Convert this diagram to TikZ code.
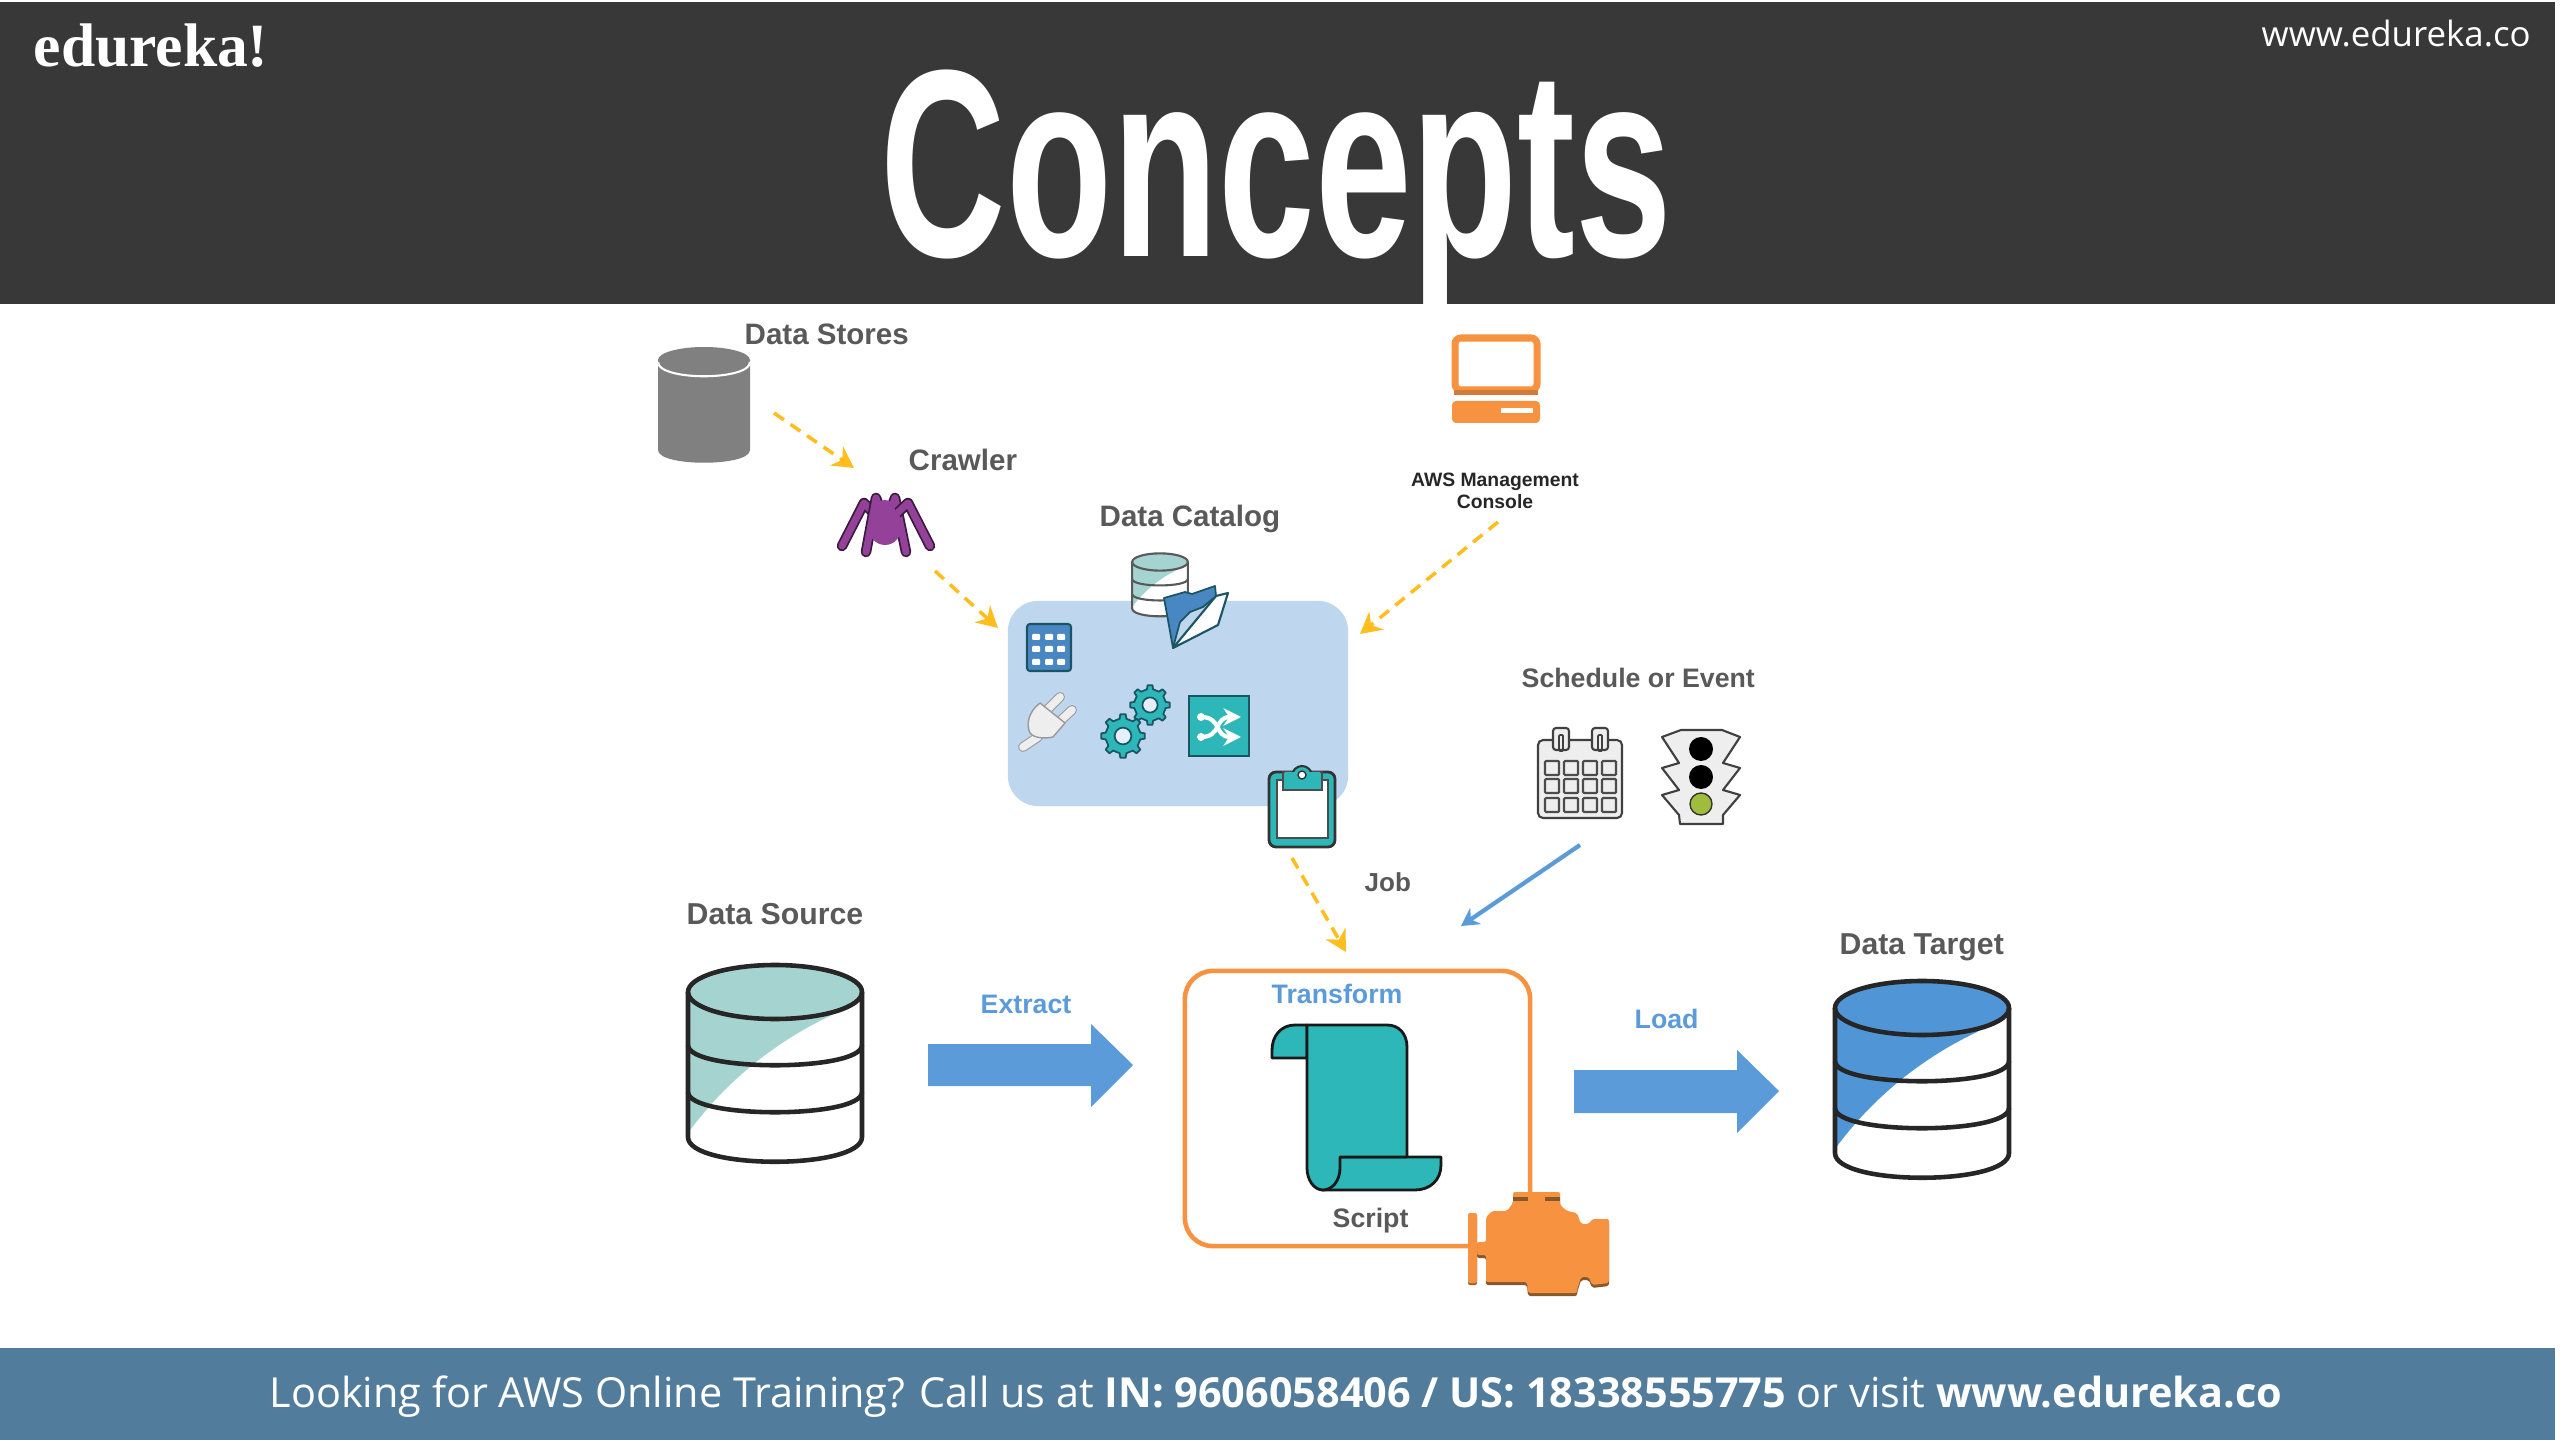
\documentclass[tikz,border=0pt]{standalone}
\usepackage{graphicx}
\usepackage{fontspec}
\setmainfont{Liberation Sans}
\newfontfamily\footfont{Open Sans}
\newfontfamily\logofont{Liberation Serif}
\usetikzlibrary{arrows.meta}

\definecolor{headgray}{HTML}{383838}
\definecolor{footblue}{HTML}{527C9C}
\definecolor{labelgray}{HTML}{595959}
\definecolor{flowblue}{HTML}{5B9BD9}
\definecolor{flowyellow}{HTML}{FFBE1E}
\definecolor{catalogblue}{HTML}{BFD6EF}
\definecolor{tealfill}{HTML}{2DB7B9}
\definecolor{tealline}{HTML}{1B5563}
\definecolor{tealpale}{HTML}{A5D3CF}
\definecolor{targetblue}{HTML}{5096D6}
\definecolor{awsorange}{HTML}{F69240}
\definecolor{spiderpurple}{HTML}{94419A}
\definecolor{icongray}{HTML}{EEEEEE}
\definecolor{storegray}{HTML}{808080}
\definecolor{lampgreen}{HTML}{A0BC3C}

\tikzset{
    lbl/.style={anchor=base west, inner sep=0pt, text=labelgray, font=\fontsize{8.4}{10}\selectfont\bfseries},
    flowlbl/.style={lbl, text=flowblue, font=\fontsize{7.6}{9}\selectfont\bfseries},
    dashflow/.style={flowyellow, line width=1pt, dash pattern=on 3.4pt off 2.3pt, -{Stealth[length=6pt,width=6.5pt]}},
    plainflow/.style={flowblue, line width=1.2pt, -{Stealth[length=5pt,width=5.5pt]}},
    blockflow/.style={fill=flowblue}
}

\newcommand{\dbicon}[6]{%
    \begin{scope}[shift={(#1,#2)},scale=#3]
        \fill[white] (-87,0) -- (-87,145) .. controls (-87,178) and (87,178) .. (87,145) -- (87,0) -- cycle;
        \fill[#4] (-87,0) -- (-87,141) .. controls (-50,90) and (0,50) .. (55,24) -- (87,0) -- cycle;
        \fill[#4] (0,0) ellipse (87 and 27);
        \draw[draw=#6, line width=#5] (0,0) ellipse (87 and 27);
        \draw[draw=#6, line width=#5] (-87,0) -- (-87,145) .. controls (-87,178) and (87,178) .. (87,145) -- (87,0);
        \draw[draw=#6, line width=#5] (-87,53) .. controls (-87,80) and (87,80) .. (87,53);
        \draw[draw=#6, line width=#5] (-87,100) .. controls (-87,127) and (87,127) .. (87,100);
    \end{scope}
}

\newcommand{\gearicon}[3]{%
    \begin{scope}[shift={(#1,#2)},scale=#3]
        \filldraw[fill=tealfill, draw=tealline, line width=0.5pt, line join=round] (-11:80)
            \foreach \a in {0,45,...,315}{ -- (\a-11:80) -- (\a-7:100) -- (\a+7:100) -- (\a+11:80)} -- cycle;
        \filldraw[fill=catalogblue!40!white, draw=tealline, line width=0.5pt] (0,0) circle (38);
    \end{scope}
}

\begin{document}
\begin{tikzpicture}[x=0.01cm, y=-0.01cm]
    \useasboundingbox (0,0) rectangle (2560,1440);
    \fill[white] (0,0) rectangle (2560,1440);

    \fill[headgray] (0,2) rectangle (2555,304);
    \fill[footblue] (0,1348) rectangle (2555,1440);

    \node[anchor=base west, inner sep=0pt, text=white, font=\fontsize{17.5}{20}\logofont\bfseries] (logo) at (33,67) {edureka!};
    \node[anchor=base west, inner sep=0pt, text=white, font=\fontsize{9.9}{12}\footfont] (site) at (2261,47) {www.edureka.co};
    \node[anchor=base west, inner sep=0pt, text=white, font=\fontsize{76}{80}\selectfont\bfseries] (title) at (880,257) {\scalebox{0.65}[1]{Concepts}};
    \node[anchor=base west, inner sep=0pt, text=white, font=\fontsize{11.77}{14}\footfont] (foot) at (269,1407)
        {Looking for AWS Online Training? Call us at \textbf{IN: 9606058406 / US: 18338555775} or visit \textbf{www.edureka.co}};

    \node[fill=catalogblue, rounded corners=0.3cm, minimum width=3.4cm, minimum height=2.05cm, inner sep=0pt] (catalog) at (1178,703.5) {};
    \node[draw=awsorange, line width=1.3pt, rounded corners=0.28cm, minimum width=3.45cm, minimum height=2.75cm, inner sep=0pt] (transformbox) at (1357.5,1108.5) {};

    \node[lbl] (storeslbl) at (744,345) {Data Stores};
    \node[lbl] (crawlerlbl) at (908,471) {Crawler};
    \node[lbl] (cataloglbl) at (1099,527) {Data Catalog};
    \node[lbl, font=\fontsize{5.5}{6.5}\selectfont\bfseries, text=black!85, align=center, anchor=base] (consolelbl) at (1495,509) {AWS Management\\Console};
    \node[lbl, font=\fontsize{7.6}{9}\selectfont\bfseries] (schedulelbl) at (1521,688) {Schedule or Event};
    \node[lbl, font=\fontsize{7.4}{9}\selectfont\bfseries] (joblbl) at (1364,891) {Job};
    \node[lbl, font=\fontsize{8.6}{10}\selectfont\bfseries] (sourcelbl) at (686,925) {Data Source};
    \node[lbl, font=\fontsize{8.6}{10}\selectfont\bfseries] (targetlbl) at (1839,955) {Data Target};
    \node[flowlbl] (extractlbl) at (980,1013) {Extract};
    \node[flowlbl] (loadlbl) at (1634,1028) {Load};
    \node[flowlbl] (transformlbl) at (1271,1003) {Transform};
    \node[lbl, font=\fontsize{7.6}{9}\selectfont\bfseries] (scriptlbl) at (1332,1227) {Script};

    \coordinate (storesout) at (774,413);
    \coordinate (crawlerin) at (854,468);
    \coordinate (crawlerout) at (935,571);
    \coordinate (catalogleft) at (998,628);
    \coordinate (consoleout) at (1498,522);
    \coordinate (catalogright) at (1360,634);
    \coordinate (jobout) at (1292,858);
    \coordinate (transformin) at (1346,952);
    \coordinate (eventout) at (1580,845);
    \coordinate (eventin) at (1461,926);

    \draw[dashflow] (storesout) -- (crawlerin);
    \draw[dashflow] (crawlerout) -- (catalogleft);
    \draw[dashflow] (consoleout) -- (catalogright);
    \draw[dashflow] (jobout) -- (transformin);
    \draw[plainflow] (eventout) -- (eventin);

    \fill[blockflow] (928,1044) -- (1091,1044) -- (1091,1024) -- (1133,1065) -- (1091,1107) -- (1091,1086) -- (928,1086) -- cycle;
    \fill[blockflow] (1574,1070) -- (1737,1070) -- (1737,1050) -- (1779,1091) -- (1737,1133) -- (1737,1113) -- (1574,1113) -- cycle;

    \fill[storegray] (658,360) -- (658,450) .. controls (658,467) and (750,467) .. (750,450) -- (750,360) -- cycle;
    \fill[storegray] (704,360) ellipse (46 and 13);
    \draw[white, line width=0.6pt] (658,362) .. controls (658,381) and (750,381) .. (750,362);

    \dbicon{775}{992}{1}{tealpale}{1.3pt}{black!85}
    \dbicon{1922}{1008}{1}{targetblue}{1.3pt}{black!85}
    \dbicon{1160}{562}{0.32}{tealpale}{0.6pt}{black!65}

    \draw[line width=0.6pt, draw=tealline, fill=white, line join=round] (1173,648) -- (1218,625) -- (1228,593) -- (1216,596) -- cycle;
    \filldraw[fill=targetblue!90!black, draw=tealline, line width=0.5pt, line join=round] (1164,598) -- (1185,592) -- (1192,594) -- (1215,586) -- (1216,596) -- (1203,607) -- (1190,612) -- (1180,622) -- (1173,648) -- cycle;

    \filldraw[fill=targetblue!90!black, draw=tealline, line width=0.6pt, rounded corners=0.03cm] (1027,624) rectangle (1071,671);
    \foreach \cx in {1036,1049,1061}
        \foreach \cy in {637,649,662}
            \fill[white, rounded corners=0.01cm] (\cx-4,\cy-3) rectangle (\cx+4,\cy+3);

    \draw[gray!80, line width=2.8pt, line cap=round] (1023,747) -- (1038,737);
    \draw[icongray, line width=2.2pt, line cap=round] (1023,747) -- (1038,737);
    \draw[gray!80, line width=2.8pt, line cap=round] (1060,697) -- (1047,710);
    \draw[gray!80, line width=2.8pt, line cap=round] (1072,710) -- (1058,723);
    \draw[icongray, line width=2.2pt, line cap=round] (1060,697) -- (1047,710);
    \draw[icongray, line width=2.2pt, line cap=round] (1072,710) -- (1058,723);
    \filldraw[fill=icongray, draw=gray!80, line width=0.4pt, line join=round] (1040,703) .. controls (1028,712) and (1026,725) .. (1030,733) .. controls (1034,738) and (1044,739) .. (1053,737) -- (1065,723) -- cycle;

    \gearicon{1150}{705}{0.2}
    \gearicon{1123}{736}{0.22}

    \filldraw[fill=tealfill, draw=tealline, line width=0.6pt] (1189,696) rectangle (1249,756);
    \fill[white] (1201,717) circle (4);
    \fill[white] (1201,737) circle (4);
    \draw[white, line width=1.2pt, -{Stealth[length=5pt,width=5pt]}] (1201,717) .. controls (1222,717) and (1214,737) .. (1241,737);
    \draw[white, line width=1.2pt, -{Stealth[length=5pt,width=5pt]}] (1201,737) .. controls (1222,737) and (1214,717) .. (1241,717);

    \filldraw[fill=tealfill, draw=black!80, line width=0.8pt, rounded corners=0.07cm] (1269,772) rectangle (1335,847);
    \filldraw[fill=white, draw=black!70, line width=0.4pt] (1277,780) rectangle (1328,838);
    \filldraw[fill=tealfill, draw=black!70, line width=0.4pt] (1283,772) rectangle (1322,790);
    \filldraw[fill=tealfill, draw=black!80, line width=0.6pt] (1302,776) circle (10);
    \fill[tealfill] (1285,772) rectangle (1320,789);
    \filldraw[fill=white, draw=black!80, line width=0.4pt] (1302,775) circle (4);

    \filldraw[fill=tealfill, draw=black!90, line width=0.8pt, line join=round] (1307,1025) -- (1295,1025) .. controls (1281,1025) and (1272,1036) .. (1272,1050) -- (1272,1058) -- (1307,1058) -- cycle;
    \filldraw[fill=tealfill, draw=black!90, line width=0.8pt, line join=round] (1340,1157) -- (1441,1157) -- (1441,1165) .. controls (1441,1180) and (1430,1190) .. (1415,1190) -- (1322,1190) -- cycle;
    \filldraw[fill=tealfill, draw=black!90, line width=0.8pt, line join=round] (1307,1025) -- (1387,1025) .. controls (1399,1025) and (1407,1034) .. (1407,1047) -- (1407,1157) -- (1340,1157) -- (1340,1168) .. controls (1340,1181) and (1332,1190) .. (1323,1190) .. controls (1314,1190) and (1307,1180) .. (1307,1168) -- cycle;

    \def\enginepath{(1513,1192) -- (1560,1192) -- (1560,1205) -- (1567,1211) -- (1577,1213) -- (1581,1224) -- (1589,1224) -- (1592,1219) -- (1609,1219) -- (1609,1283) -- (1592,1285) -- (1589,1277) -- (1581,1277) -- (1577,1290) -- (1577,1293) -- (1528,1293) -- (1527,1282) -- (1486,1282) -- (1486,1255) -- (1477,1255) -- (1477,1242) -- (1486,1242) -- (1486,1217) -- (1492,1211) -- (1507,1211) -- (1513,1203) -- cycle}
    \fill[brown!70!black, yshift=-0.03cm, rounded corners=0.02cm] \enginepath;
    \fill[awsorange, rounded corners=0.02cm] \enginepath;
    \fill[brown!80!black, rounded corners=0.02cm, yshift=-0.02cm] (1468,1213) rectangle (1477,1283);
    \fill[awsorange, rounded corners=0.02cm] (1468,1213) rectangle (1477,1283);
    \fill[brown!70!black] (1513,1197) rectangle (1528,1201);
    \fill[brown!70!black] (1545,1197) rectangle (1560,1201);

    \filldraw[fill=icongray, draw=black!75, line width=0.6pt, rounded corners=0.05cm] (1538,740) rectangle (1622,818);
    \foreach \rx in {1561,1600} {
        \filldraw[fill=icongray, draw=black!75, line width=0.6pt, rounded corners=0.03cm] (\rx-8,728) rectangle (\rx+8,750);
        \draw[black!75, line width=0.5pt, rounded corners=0.01cm] (\rx-2,735) rectangle (\rx+2,751);
    }
    \foreach \cx in {1552,1571,1590,1609}
        \foreach \cy in {768,786,805}
            \draw[black!70, line width=0.6pt, rounded corners=0.01cm] (\cx-7,\cy-7) rectangle (\cx+7,\cy+7);

    \filldraw[fill=icongray, draw=black!75, line width=0.6pt, line join=round] (1681,730) -- (1722,730) -- (1740,737) -- (1723,763) -- (1740,768) -- (1723,790) -- (1740,795) -- (1723,815) -- (1723,824) -- (1680,824) -- (1679,815) -- (1662,795) -- (1679,790) -- (1662,768) -- (1679,763) -- (1662,737) -- cycle;
    \fill[black] (1701,749) circle (12);
    \fill[black] (1701,777) circle (12);
    \filldraw[fill=lampgreen, draw=black!80, line width=0.4pt] (1701,804) circle (11);

    \filldraw[fill=white, draw=awsorange, line width=2pt, rounded corners=0.06cm] (1455,338) rectangle (1537,390);
    \fill[awsorange!85!black] (1454,390) rectangle (1538,395);
    \fill[awsorange, rounded corners=0.04cm] (1452,401) rectangle (1540,423);
    \fill[white] (1501,408) rectangle (1533,413);

    \foreach \lx/\ly/\kx/\ky/\fx/\fy in {878/518/864/503/842/546, 882/515/876/498/866/552, 889/515/895/498/906/552, 892/518/908/503/930/546} {
        \draw[black!60!spiderpurple, line width=3pt, line cap=round, line join=round] (\lx,\ly) -- (\kx,\ky) -- (\fx,\fy);
        \draw[spiderpurple, line width=2pt, line cap=round, line join=round] (\lx,\ly) -- (\kx,\ky) -- (\fx,\fy);
    }
    \fill[spiderpurple] (885,526) ellipse (17 and 19);
    \fill[spiderpurple] (885,510) circle (10);
\end{tikzpicture}
\end{document}
